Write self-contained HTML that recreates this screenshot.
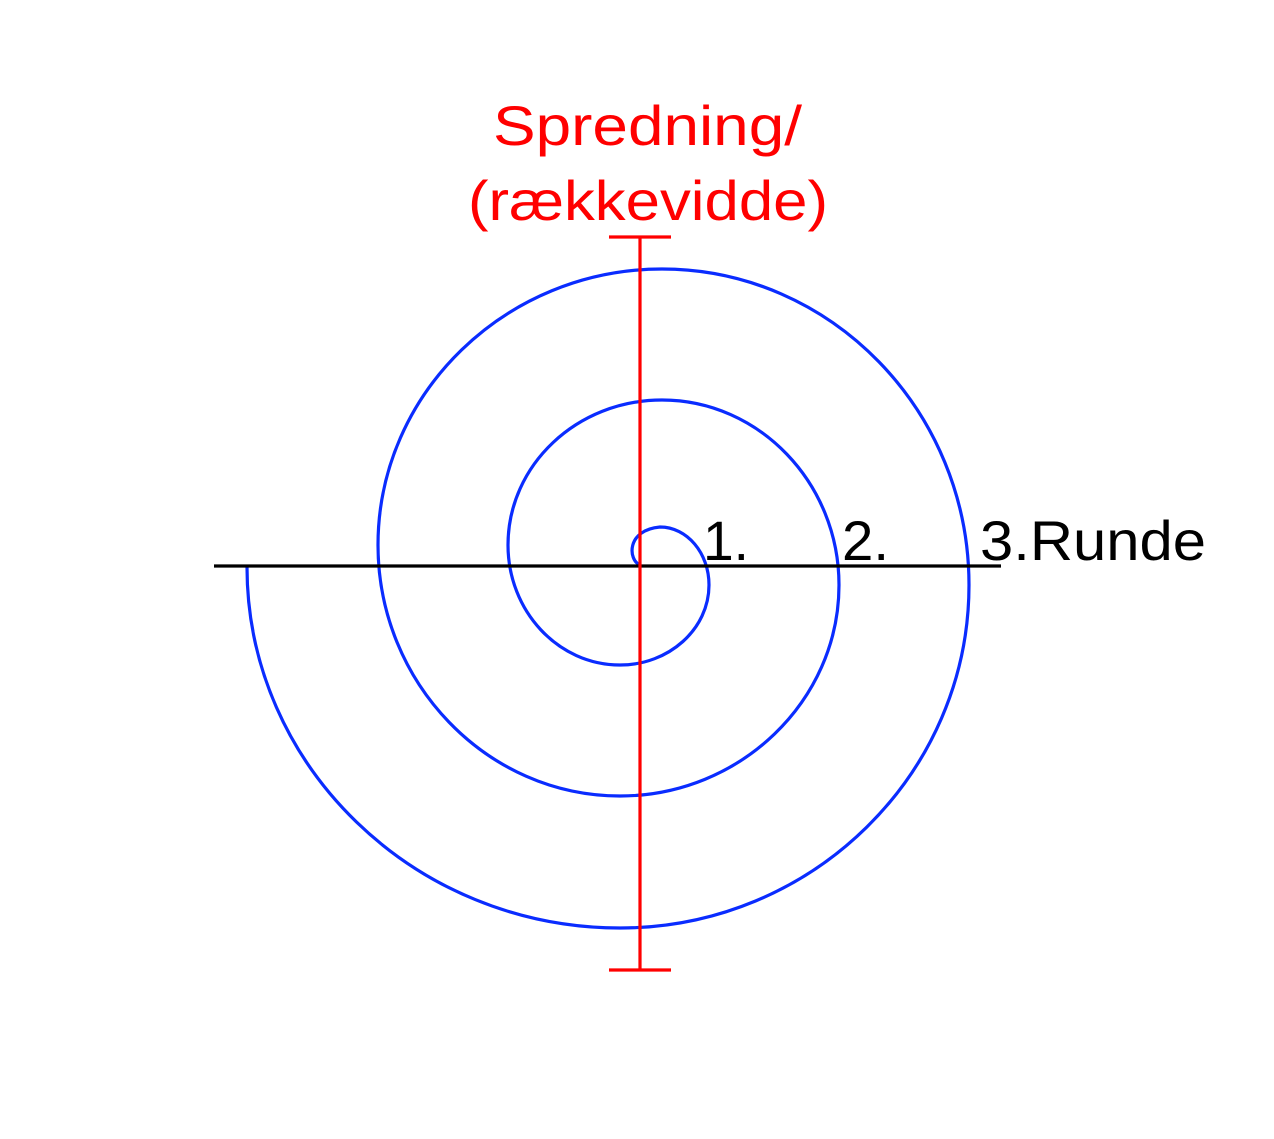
<!DOCTYPE html>
<html><head><meta charset="utf-8"><style>html,body{margin:0;padding:0;background:#fff}</style></head>
<body>
<svg width="1274" height="1134" xmlns="http://www.w3.org/2000/svg">
<rect width="1274" height="1134" fill="#fff"/>
<path d="M640,565 C628,560 626,530 660,527 C687,527 709,553 709,585 C709,629 669,665 620,665 C558,665 508,611 508,545 C508,465 577,400 662,400 C759,400 839,483 839,585 C839,701 740,796 620,796 C487,796 378,683 378,545 C378,393 506,269 662,269 C831,269 969,411 969,585 C969,774 812,928 620,928 C415,928 247,766 247,567" fill="none" stroke="#0a2cff" stroke-width="3.2"/>
<line x1="214" y1="566" x2="1001" y2="566" stroke="#000" stroke-width="3.2"/>
<line x1="640" y1="237" x2="640" y2="970" stroke="#f00" stroke-width="3.2"/>
<line x1="609" y1="237" x2="671" y2="237" stroke="#f00" stroke-width="3.2"/>
<line x1="609" y1="970" x2="671" y2="970" stroke="#f00" stroke-width="3.2"/>
<g font-family="Liberation Sans, sans-serif" font-size="56">
<text x="493" y="145" fill="#f00" textLength="309" lengthAdjust="spacingAndGlyphs">Spredning/</text>
<text x="468" y="220" fill="#f00" textLength="360" lengthAdjust="spacingAndGlyphs">(rækkevidde)</text>
<text x="703" y="560" fill="#000" textLength="46" lengthAdjust="spacingAndGlyphs">1.</text>
<text x="842" y="560" fill="#000" textLength="47" lengthAdjust="spacingAndGlyphs">2.</text>
<text x="980" y="560" fill="#000" textLength="226" lengthAdjust="spacingAndGlyphs">3.Runde</text>
</g>
</svg>
</body></html>
